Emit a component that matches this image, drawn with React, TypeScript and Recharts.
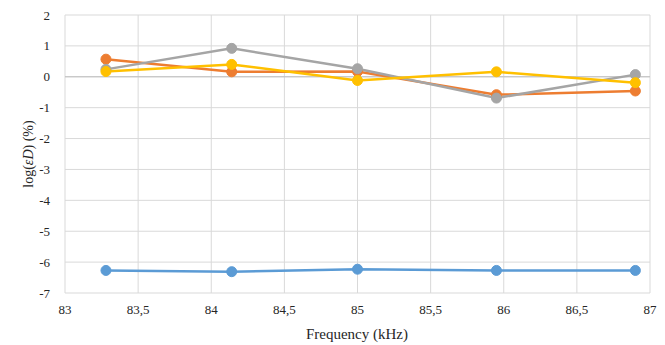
import {
  LineChart,
  Line,
  XAxis,
  YAxis,
  CartesianGrid,
  ReferenceLine,
} from "recharts";

const FREQ = [83.28, 84.14, 85, 85.95, 86.9];
const BLUE = [-6.27, -6.31, -6.23, -6.27, -6.27];
const ORANGE = [0.57, 0.16, 0.17, -0.58, -0.46];
const GRAY = [0.24, 0.92, 0.26, -0.69, 0.07];
const YELLOW = [0.17, 0.4, -0.12, 0.16, -0.19];

const X_TICKS = [83, 83.5, 84, 84.5, 85, 85.5, 86, 86.5, 87];
const Y_TICKS = [-7, -6, -5, -4, -3, -2, -1, 0, 1, 2];

const data = FREQ.map((f, i) => ({
  f,
  blue: BLUE[i],
  orange: ORANGE[i],
  gray: GRAY[i],
  yellow: YELLOW[i],
}));

const FONT = "Liberation Serif";
const textStyle = { fontFamily: FONT };

const SERIES = [
  { key: "blue", color: "#5b9bd5" },
  { key: "orange", color: "#ed7d31" },
  { key: "gray", color: "#a5a5a5" },
  { key: "yellow", color: "#ffc000" },
];

function XTick({ x, y, payload }: any) {
  return (
    <text
      x={x}
      y={y + 14}
      textAnchor="middle"
      dominantBaseline="central"
      style={textStyle}
      fontSize={13}
      fill="#262626"
    >
      {String(payload.value).replace(".", ",")}
    </text>
  );
}

function YTick({ x, y, payload }: any) {
  return (
    <text
      x={x - 13}
      y={y}
      textAnchor="end"
      dominantBaseline="central"
      style={textStyle}
      fontSize={13}
      fill="#262626"
    >
      {payload.value}
    </text>
  );
}

function YLabel() {
  return (
    <text
      x={28}
      y={154}
      transform="rotate(-90 28 154)"
      textAnchor="middle"
      dominantBaseline="central"
      style={textStyle}
      fontSize={14}
      fill="#262626"
    >
      log(<tspan fontStyle="italic">εD</tspan>) (%)
    </text>
  );
}

function XLabel() {
  return (
    <text
      x={357}
      y={334}
      textAnchor="middle"
      dominantBaseline="central"
      style={textStyle}
      fontSize={15}
      fill="#262626"
    >
      Frequency (kHz)
    </text>
  );
}

export default function App() {
  return (
    <div style={{ position: "absolute", left: 0, top: 0, background: "#fff" }}>
      <LineChart
        width={665}
        height={345}
        data={data}
        margin={{ top: 15, right: 15, bottom: 0, left: 0 }}
      >
        <CartesianGrid stroke="#d9d9d9" strokeWidth={1} />
        <XAxis
          dataKey="f"
          type="number"
          domain={[83, 87]}
          ticks={X_TICKS}
          tick={(p: any) => <XTick {...p} />}
          axisLine={false}
          tickLine={false}
          tickSize={0}
          height={52}
          interval={0}
        />
        <YAxis
          type="number"
          domain={[-7, 2]}
          ticks={Y_TICKS}
          tick={(p: any) => <YTick {...p} />}
          axisLine={false}
          tickLine={false}
          tickSize={0}
          width={65}
          interval={0}
        />
        <ReferenceLine y={0} stroke="#bfbfbf" strokeWidth={1} />
        {SERIES.map((s) => (
          <Line
            key={s.key}
            dataKey={s.key}
            stroke={s.color}
            strokeWidth={2.5}
            dot={{ r: 5, fill: s.color, stroke: s.color, strokeWidth: 1 }}
            activeDot={false}
            isAnimationActive={false}
          />
        ))}
        <YLabel />
        <XLabel />
      </LineChart>
    </div>
  );
}
